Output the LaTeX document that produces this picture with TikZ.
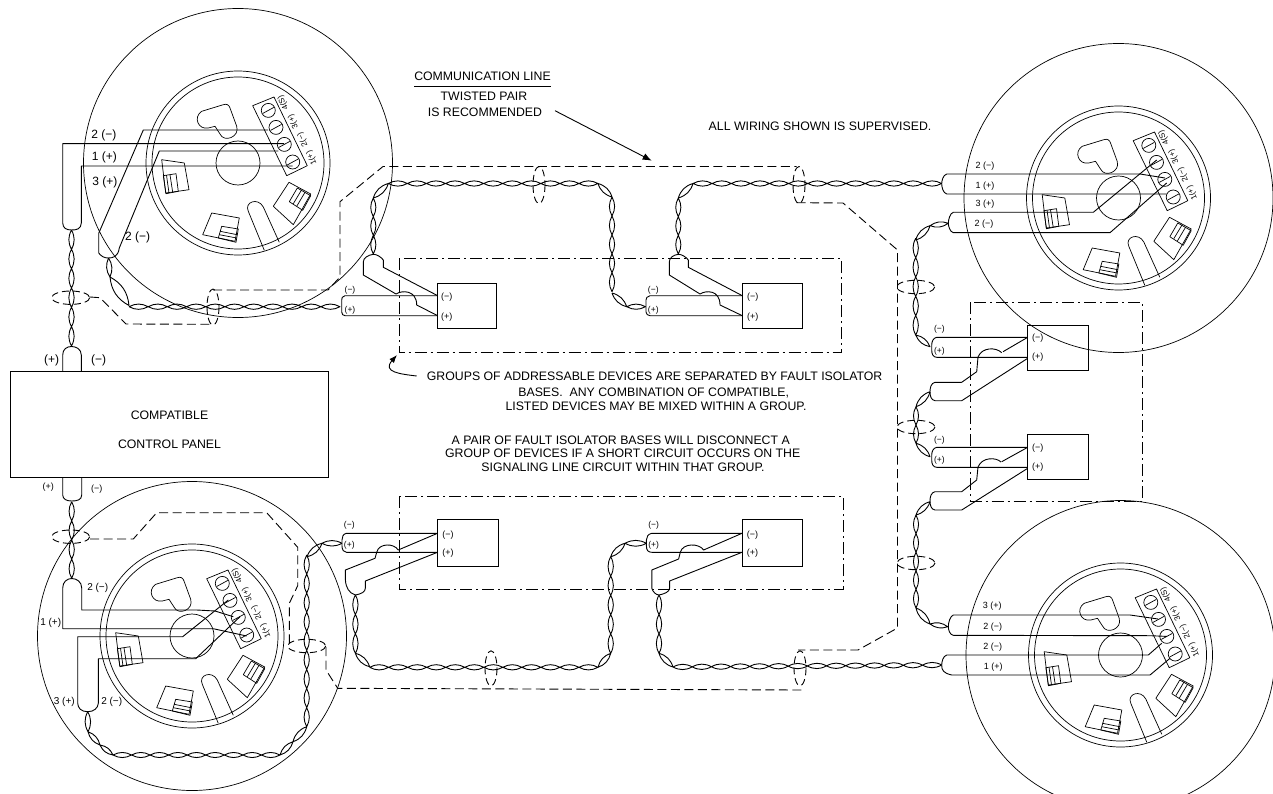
\documentclass[tikz,border=0pt]{standalone}
\usepackage{fontspec}
\setmainfont{Liberation Sans}
\usetikzlibrary{calc,arrows.meta,shapes.geometric}
\tikzset{
  wire/.style={line width=.9pt,black,line join=round},
  fine/.style={line width=.7pt,black,line join=round},
  dashl/.style={line width=.9pt,dash pattern=on 9pt off 4.5pt,line join=round},
  dashdotl/.style={line width=.85pt,dash pattern=on 12pt off 4pt on 2pt off 4pt},
  note/.style={inner sep=0,align=center,font=\fontsize{12.3}{14}\selectfont},
  l12/.style={inner sep=0,font=\fontsize{12}{12}\selectfont},
  l10/.style={inner sep=0,font=\fontsize{10}{10}\selectfont},
  l9/.style={inner sep=0,font=\fontsize{9}{9}\selectfont},
  l8/.style={inner sep=0,font=\fontsize{8.5}{8.5}\selectfont},
  termlab/.style={inner sep=0,rotate=115,font=\fontsize{8}{8}\selectfont},
  device/.style={draw,line width=.9pt,rectangle,inner sep=0,outer sep=0},
}
\newcommand\twist[3]{%
  \coordinate (tA) at (#1); \coordinate (tB) at (#2);
  \foreach \k in {1,...,#3}{%
    \pgfmathsetmacro\ka{(\k-1)/#3}\pgfmathsetmacro\kb{\k/#3}
    \draw[wire] ($(tA)!\ka!(tB)$) to[bend left=28] ($(tA)!\kb!(tB)$) to[bend left=28] ($(tA)!\ka!(tB)$);
  }}
\newcommand\basefeat[2]{%
\begin{scope}[shift={(#1,#2)}]
  \draw[fine] (0,0) circle (154.5);
  \draw[fine] (0,0) circle (92);
  \draw[fine] (0,0) circle (86);
  \draw[fine] (0,0) circle (22);
  % terminal block
  \draw[fine] (14.7,-57.3) -- (36,-66) -- (69.3,2.7) -- (48.7,12.7) -- cycle;
  \foreach \sx/\sy in {30.3/-52.6,38/-35.6,46.3/-18.6,54.7/-1}{
    \draw[fine] (\sx,\sy) circle (7);
    \draw[fine] (\sx-5.5,\sy+3) -- (\sx+5.5,\sy-3);
  }
  \node[termlab] at (45.3,-60) {4(S)};
  \node[termlab] at (55.3,-41.6) {3(+)};
  \node[termlab] at (64.7,-23.3) {2(−)};
  \node[termlab] at (73.7,-5) {1(+)};
  % heart
  \draw[fine] (-36.3,-51.7) -- (-14.7,-58.3) .. controls (-11,-59.5) and (-9,-58) .. (-8,-55) -- (-1.3,-36.7)
     .. controls (2,-26) and (-14,-20) .. (-18,-29) -- (-23,-36.7) -- (-29.7,-35)
     .. controls (-40,-33) and (-45,-46) .. (-36.3,-51.7) -- cycle;
  % feature A
  \draw[fine] (-76.3,-3.3) -- (-53.7,0) -- (-49,26.7) -- (-72.3,30) -- cycle;
  \draw[fine] (-74.7,12.7) -- (-62,10.7) -- (-59.7,28.3) -- (-72,30.7) -- cycle;
  \draw[fine] (-68,11.7) -- (-65.3,29.3) (-71.5,12.2) -- (-69,30);
  % feature B
  \draw[fine] (-26.3,50) -- (1.3,55) -- (-3,78.3) -- (-35.3,71.7) -- cycle;
  \draw[fine] (-16.3,63.3) -- (0.3,66) -- (-2,79.3) -- (-19.7,75) -- cycle;
  \draw[fine] (-18,68.3) -- (-0.7,71.7) (-18.7,71.7) -- (-1.3,75);
  % feature C
  \draw[fine] (51,19.3) -- (72.7,31) -- (55.3,61.7) -- (35.3,43.3) -- cycle;
  \draw[fine] (59.3,25) -- (72.7,32.7) -- (64.7,47.3) -- (51.3,38.7) -- cycle;
  \draw[fine] (63.7,26.7) -- (55.3,40.7) (67,29.3) -- (58.7,43.3);
  % slot
  \draw[fine] (26.3,87.3) -- (10.3,48.3) .. controls (6,39) and (20,34) .. (25.3,44) -- (41.3,79.3);
\end{scope}}
\begin{document}
\begin{tikzpicture}[x=1pt,y=-1pt]
\useasboundingbox (0,0) rectangle (1273,794);
% bases
\basefeat{238}{163}
\basefeat{1118.5}{198}
\basefeat{1120.5}{655}
\basefeat{192}{636}

% panel
\node[device,minimum width=317.6pt,minimum height=106.7pt] (panel) at (169.5,424.3) {};
\node[note] (pt1) at (169.5,415) {COMPATIBLE};
\node[note] (pt2) at (169.5,444) {CONTROL PANEL};

% group boxes
\draw[dashdotl] (399,258.3) rectangle (841,352.7);
\draw[dashdotl] (399,496) rectangle (843,589);
\draw[dashdotl] (970.5,302) rectangle (1142,501);

% devices
\node[device,minimum width=59pt,minimum height=45pt] (d1) at (467.2,305.8) {};
\node[device,minimum width=60pt,minimum height=45pt] (d2) at (772.3,305.8) {};
\node[device,minimum width=60.6pt,minimum height=45pt] (d3) at (1058,347.5) {};
\node[device,minimum width=60.6pt,minimum height=45pt] (d4) at (1058,456.8) {};
\node[device,minimum width=60.5pt,minimum height=46.7pt] (d5) at (467.8,542.7) {};
\node[device,minimum width=60.5pt,minimum height=46.7pt] (d6) at (772.3,542.7) {};

% --- Cable A main: panel to base top-left
\draw[wire] (284,143.7) -- (62.7,143.7) -- (62.7,223) .. controls (63,228) and (66,230) .. (71.5,230)
   .. controls (77,230) and (81,229) .. (81.3,223) -- (81.3,166) -- (292.7,166);
\twist{71.5,230}{71.5,346}{6}
\draw[wire] (62.7,371) -- (62.7,355) .. controls (62.7,349) and (67,346.5) .. (71.5,346.5)
   .. controls (76,346.5) and (81.3,349) .. (81.3,355) -- (81.3,371);
\node[l12] (a1) at (104,135) {2 (−)};
\node[l12] (a2) at (104.3,157.3) {1 (+)};
\node[l12] (a3) at (105,182.3) {3 (+)};
\node[l12] (a4) at (137.7,237.7) {2 (−)};
\node[l12] (a5) at (51.7,360) {(+)};
\node[l12] (a6) at (98.7,360) {(−)};
% second cable A
\draw[wire] (268,130) -- (143.3,130) -- (98.7,233.3) -- (98.7,253) .. controls (101,256) and (104,258) .. (108,258)
   .. controls (113,258) and (118,257) .. (119.3,248) -- (159.3,151) -- (278.3,151);
\twist{108.5,258}{110,277}{1}
\twist{110,277}{129,305.5}{1}
\twist{129,306.7}{340,306.7}{11}
% device 1 wires
\draw[wire] (437.7,295.7) -- (345,295.7) .. controls (342,296.5) and (341.7,298) .. (341.7,300) -- (341.7,312)
   .. controls (341.7,314) and (343,315.7) .. (345,315.7) -- (437.7,315.7);
\draw[wire] (437.7,295.7) -- (383.3,267.3) -- (383.3,260) .. controls (381,257) and (377,254.3) .. (373.3,254.3)
   .. controls (368,255) and (363.3,258) .. (363.3,262) -- (363.3,275) -- (396,294)
   .. controls (402,290) and (416.7,290) .. (416.7,305) -- (437.7,315.7);
\node[l8] (b1) at (350,290) {(−)};
\node[l8] (b2) at (350,310) {(+)};
\node[l9] (b3) at (446.7,297.3) {(−)};
\node[l9] (b4) at (446.7,317.3) {(+)};
\twist{373.3,254}{373.3,198}{3}
\twist{373.3,198}{388.3,183.5}{1}
\twist{388.3,183.5}{598,183.5}{11}
\twist{598,183.5}{612,197}{1}
\twist{612,197}{612,291.7}{5}
\twist{612,293}{626.7,306.7}{1}
\twist{626.7,306.7}{645.5,306.7}{1}
% device 2 wires
\draw[wire] (742.3,295.7) -- (650,295.7) .. controls (647,296.5) and (646,298) .. (646,300) -- (646,312)
   .. controls (646,314) and (648,315.7) .. (650,315.7) -- (742.3,315.7);
\draw[wire] (742.3,295.7) -- (688.3,267.3) -- (688.3,260) .. controls (686,257) and (682,254.3) .. (678.3,254.3)
   .. controls (673,255) and (669.3,258) .. (669.3,262) -- (669.3,275) -- (700,294)
   .. controls (706,290) and (720,290) .. (720,305) -- (742.3,315.7);
\node[l8] (c1) at (653.3,290) {(−)};
\node[l8] (c2) at (653.3,310) {(+)};
\node[l9] (c3) at (752.7,297.3) {(−)};
\node[l9] (c4) at (752.7,317.3) {(+)};
\twist{678.3,254}{678.3,198}{3}
\twist{678.3,198}{693,183.5}{1}
\twist{693,183.5}{941.7,183.5}{13}
% base B cables
\draw[wire] (1165,178) -- (1140,174) -- (946.7,174) .. controls (943,175) and (941.7,181) .. (941.7,183.7)
   .. controls (941.7,187) and (943,193) .. (946.7,194) -- (1166.7,194);
\draw[wire] (1156.7,160) -- (1093.3,212.3) -- (953.3,212.3) .. controls (950,213) and (948.3,220) .. (948.3,223.3)
   .. controls (948.3,226) and (950,232) .. (953.3,232.7) -- (1110,232.7) -- (1166.7,183);
\node[l9] (e1) at (985,166) {2 (−)};
\node[l9] (e2) at (985,186) {1 (+)};
\node[l9] (e3) at (985,204) {3 (+)};
\node[l9] (e4) at (984,224) {2 (−)};
\twist{948.3,223.3}{930,225.7}{1}
\twist{930,225.7}{915.7,240}{1}
\twist{915.7,238.3}{915.7,335}{5}
\twist{915.7,335}{930,346.7}{1}
% device 3
\draw[wire] (1027.7,337.3) -- (936.7,337.3) .. controls (933,338) and (931.7,342) .. (931.7,345) -- (931.7,350)
   .. controls (931.7,354) and (933,357.3) .. (936.7,357.3) -- (1027.7,357.3);
\draw[wire] (1027.7,337.3) -- (1003,351.7);
\draw[wire] (1001.7,352.7) .. controls (996,347) and (982,347) .. (978,357) -- (976.7,371.7) -- (961.7,382.3) -- (935,382.3)
   .. controls (931,383) and (930,388) .. (930,391.7) .. controls (930,396) and (931,400) .. (935,400.7) -- (961.7,400.7) -- (1027.7,358.3);
\node[l8] (f1) at (939.3,329.3) {(−)};
\node[l8] (f2) at (939.3,351.7) {(+)};
\node[l9] (f3) at (1037.7,338.3) {(−)};
\node[l9] (f4) at (1037.7,357.3) {(+)};
\twist{930,391.7}{916,406.7}{1}
\twist{916,406.7}{916,443.3}{2}
\twist{916,443.3}{930,456.7}{1}
% device 4
\draw[wire] (1027.7,447.3) -- (936.7,447.3) .. controls (933,448) and (931.7,452) .. (931.7,455) -- (931.7,460)
   .. controls (931.7,464) and (933,467.3) .. (936.7,467.3) -- (1027.7,467.3);
\draw[wire] (1027.7,447.3) -- (1001.7,461.7);
\draw[wire] (1001,462) .. controls (996,457) and (982,457) .. (978,467) -- (976.7,480) -- (961.7,491.7) -- (935,491.7)
   .. controls (931,492.5) and (930,497) .. (930,501) .. controls (930,505) and (931,509.5) .. (935,510) -- (961.7,510) -- (1027.7,468.3);
\node[l8] (g1) at (939.3,440) {(−)};
\node[l8] (g2) at (939.3,460.7) {(+)};
\node[l9] (g3) at (1037.7,448.3) {(−)};
\node[l9] (g4) at (1037.7,466.7) {(+)};
\twist{930,501.7}{916,515}{1}
\twist{916,515}{916,608}{5}
\twist{916,608}{930,624}{1}
\twist{930,624}{947.7,626.7}{1}
% base C cables
\draw[wire] (1158,619) -- (1130,615) -- (953.3,615) .. controls (950,616) and (948.3,623) .. (948.3,626.7)
   .. controls (948.3,630) and (950,635) .. (953.3,635.3) -- (1150,635.7) -- (1167,636.4);
\draw[wire] (1161.7,643.3) -- (1148.3,655) -- (946.7,655) .. controls (943,656) and (941.7,662) .. (941.7,665)
   .. controls (941.7,670) and (943,673) .. (951.7,675) -- (1150,675) -- (1170,658.3);
\node[l9] (h1) at (992.3,606) {3 (+)};
\node[l9] (h2) at (992.7,626.7) {2 (−)};
\node[l9] (h3) at (992.7,646.7) {2 (−)};
\node[l9] (h4) at (993.3,667.3) {1 (+)};
% device 5
\draw[wire] (437.5,533.3) -- (346.4,533.3) .. controls (343,534) and (342,537) .. (342,540) -- (342,546)
   .. controls (342,550) and (344,552.3) .. (346.4,552.3) -- (437.5,552.3);
\draw[wire] (437.5,533.3) -- (398.2,550) .. controls (394,543) and (379,543) .. (376.8,552) -- (375,558.3)
   -- (345.4,570) -- (345.4,580) .. controls (346,588) and (349,593) .. (355.4,595)
   .. controls (361,594) and (365.4,592) .. (365.4,588) -- (365.4,581) -- (437.5,552.3);
\node[l8] (i1) at (349.3,525) {(−)};
\node[l8] (i2) at (349.3,545.7) {(+)};
\node[l9] (i3) at (448,535) {(−)};
\node[l9] (i4) at (448,553.3) {(+)};
\twist{342,543.3}{322,543.3}{1}
\twist{322,543.3}{307,556.7}{1}
\twist{306.7,555}{306.7,726.7}{9}
\twist{306.7,726.7}{293,741.7}{1}
\twist{293,741.7}{280,755}{1}
\twist{280,755}{113,755}{9}
\twist{113,755}{100,745}{1}
\twist{100,745}{88,731.7}{1}
\twist{88,731.7}{87.7,711.7}{1}
% device 6
\draw[wire] (742,533.3) -- (651.8,533.3) .. controls (648,534) and (646.4,537) .. (646.4,540) -- (646.4,546)
   .. controls (646.4,550) and (648,552.3) .. (651.8,552.3) -- (742,552.3);
\draw[wire] (742,533.3) -- (703.6,550) .. controls (699,543) and (683,543) .. (680.4,552) -- (678.6,559)
   -- (651.8,570) -- (651.8,588.3) .. controls (653,592) and (656,595) .. (659,595)
   .. controls (664,594) and (669.6,592) .. (669.6,588) -- (669.6,581) -- (742,552.3);
\node[l8] (j1) at (653.6,525) {(−)};
\node[l8] (j2) at (653.6,545.7) {(+)};
\node[l9] (j3) at (752.5,535) {(−)};
\node[l9] (j4) at (752.5,553.3) {(+)};
% lower twists
\twist{355.4,595}{355.4,653.3}{3}
\twist{355.4,653.3}{369.6,666.7}{1}
\twist{369.6,667.3}{598,667.3}{12}
\twist{598,667.3}{610.7,653.3}{1}
\twist{610.7,653.3}{610.7,556.7}{5}
\twist{610.7,556.7}{625,543.3}{1}
\twist{625,543.3}{646.4,543.3}{1}
\twist{659,595}{659,653.3}{3}
\twist{659,653.3}{673,667}{1}
\twist{673,667}{941.7,665}{14}
% base D cables
\draw[wire] (62.7,477.7) -- (62.7,495) .. controls (63,499) and (66,501) .. (71.7,501)
   .. controls (77,501) and (81.7,500) .. (81.7,495) -- (81.7,477.7);
\twist{71.7,501.7}{71.7,578.3}{4}
\draw[wire] (233.3,616.7) -- (215,611) -- (196.7,610) -- (81.7,610) -- (81.7,588) .. controls (81.7,582) and (77,578.5) .. (71.7,578.5)
   .. controls (67,578.5) and (62.7,582) .. (62.7,588) -- (62.7,628.7) -- (213.3,628.7) -- (246.7,636);
\draw[wire] (228.3,600) -- (182.7,636.7) -- (77.7,636.7) -- (77.7,703.3) .. controls (78,708) and (81,711.7) .. (87.7,711.7)
   .. controls (94,711.7) and (98,708) .. (98.3,703.3) -- (98.3,658.7) -- (195.7,658.7) -- (240,616.7);
\node[l9] (k1) at (48.3,486.7) {(+)};
\node[l9] (k2) at (96.7,489) {(−)};
\node[l10] (k3) at (97.7,588.3) {2 (−)};
\node[l10] (k4) at (50.7,623.3) {1 (+)};
\node[l10] (k5) at (64.3,701.7) {3 (+)};
\node[l10] (k6) at (111.7,702.3) {2 (−)};

% dashed isolator loops
\draw[dashl] (90,297) -- (100,297.7) -- (126,324) -- (213,324.3);
\draw[dashl] (213,290) -- (328,290) -- (340,277) -- (340,201.7) -- (383,166.5) -- (796.7,166.5);
\draw[dashl] (796.7,202.7) -- (843,203) -- (897.5,250) -- (897.5,628) -- (858,650) -- (798,650);
\draw[dashl] (90,539) -- (133.3,539) -- (156.7,512.7) -- (266.7,512.7) -- (297.7,547.3) -- (297.7,585.7) -- (289.3,603.3) -- (289.3,646.7);
\draw[dashl] (326,647) -- (326,670) -- (337.7,688.3) -- (802,690);
\foreach \ex/\ey/\erx/\ery in {70.7/297.7/19/6.7, 70.7/536.7/19/6.7, 306.7/646/19/6.7, 915.7/287/19/6.7, 916/427/19/6.7, 916/563/19/6.7}{
  \draw[dashl,dash pattern=on 7pt off 4pt] (\ex,\ey) ellipse [x radius=\erx,y radius=\ery];
}
\foreach \ex/\ey/\erx/\ery in {213/307/6/18, 539/185/6/18.5, 799/185/6/18.5, 491/668.3/6/17.5, 800/668.3/6/17.5}{
  \draw[dashl,dash pattern=on 7pt off 4pt] (\ex,\ey) ellipse [x radius=\erx,y radius=\ery];
}

% notes
\node[note] (n1) at (482.5,76.7) {COMMUNICATION LINE};
\draw[line width=.8pt] (414,86) -- (551,86);
\node[note] (n2) at (484,96) {TWISTED PAIR};
\node[note] (n3) at (485,112) {IS RECOMMENDED};
\coordinate (arrS) at (555,110.7);
\coordinate (arrE) at (651.7,160.7);
\draw[wire,-{Latex[length=9pt,width=7pt]}] (arrS) -- (arrE);
\node[note] (n4) at (820,126) {ALL WIRING SHOWN IS SUPERVISED.};
\node[note,anchor=west] (n5) at (426.7,376.7) {GROUPS OF ADDRESSABLE DEVICES ARE SEPARATED BY FAULT ISOLATOR};
\node[note] (n6) at (653.7,392.7) {BASES.\ \ ANY COMBINATION OF COMPATIBLE,};
\node[note] (n7) at (656,406) {LISTED DEVICES MAY BE MIXED WITHIN A GROUP.};
\node[note] (n8) at (620.7,440) {A PAIR OF FAULT ISOLATOR BASES WILL DISCONNECT A};
\node[note] (n9) at (622.7,453.3) {GROUP OF DEVICES IF A SHORT CIRCUIT OCCURS ON THE};
\node[note] (n10) at (623,467.3) {SIGNALING LINE CIRCUIT WITHIN THAT GROUP.};
\coordinate (cS) at (416.7,376);
\coordinate (cE) at (397,355);
\draw[wire,-{Latex[length=8pt,width=6pt]}] (cS) .. controls (400,374) and (382,372) .. (cE);
\end{tikzpicture}
\end{document}
